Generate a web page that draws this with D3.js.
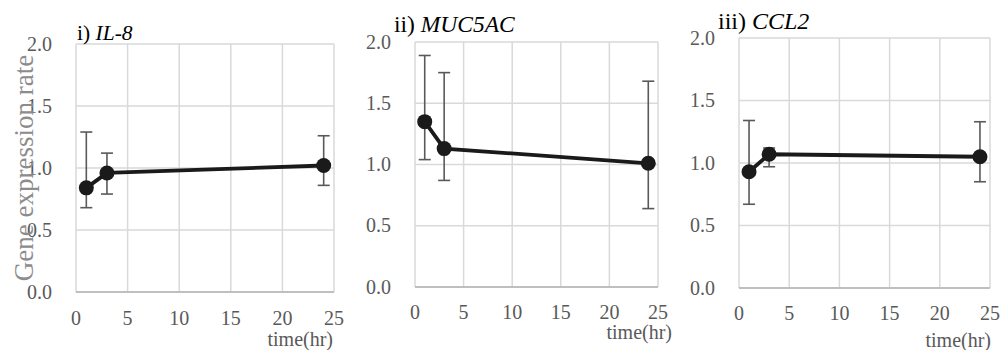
<!DOCTYPE html>
<html><head><meta charset="utf-8">
<script src="https://cdn.jsdelivr.net/npm/d3@7"></script>
<style>
html,body{margin:0;padding:0;background:#fff;}
svg{display:block;}
svg text{font-family:"Liberation Serif","Times New Roman",Times,serif;}
</style></head>
<body><svg id="c" width="1002" height="350"></svg>
<script>
const times = [1, 3, 24];
const xTicks = [0, 5, 10, 15, 20, 25];
const yTicks = [0.0, 0.5, 1.0, 1.5, 2.0];
const panelPrefixes = ["i) ", "ii) ", "iii) "];
const geneNames = ["IL-8", "MUC5AC", "CCL2"];
const il8Mean = [0.84, 0.96, 1.02];
const il8Hi   = [1.29, 1.12, 1.26];
const il8Lo   = [0.68, 0.79, 0.86];
const mucMean = [1.35, 1.13, 1.01];
const mucHi   = [1.89, 1.75, 1.68];
const mucLo   = [1.04, 0.87, 0.64];
const cclMean = [0.93, 1.07, 1.05];
const cclHi   = [1.34, 1.12, 1.33];
const cclLo   = [0.67, 0.97, 0.85];
const yTitle = "Gene expression rate";
const xTitle = "time(hr)";

const series = [
  {mean: il8Mean, hi: il8Hi, lo: il8Lo},
  {mean: mucMean, hi: mucHi, lo: mucLo},
  {mean: cclMean, hi: cclHi, lo: cclLo}
];
const FONT = "Liberation Serif, Times New Roman, serif";
// layout
const panels = [
  {l: 76, r: 334, t: 44, b: 292, titleX: 77, titleY: 40, titleSize: 21.5, xLabY: 325, xTitleX: 333, xTitleY: 346},
  {l: 415, r: 658, t: 42, b: 287, titleX: 394, titleY: 31.5, titleSize: 23.5, xLabY: 319, xTitleX: 672, xTitleY: 339},
  {l: 739, r: 990, t: 38, b: 288, titleX: 718, titleY: 29, titleSize: 24, xLabY: 320, xTitleX: 991, xTitleY: 347}
];
const svg = d3.select("#c");
const gridCol = "#d9d9d9", labCol = "#595959";

panels.forEach((p, i) => {
  const x = d3.scaleLinear().domain([0, 25]).range([p.l, p.r]);
  const y = d3.scaleLinear().domain([0, 2]).range([p.b, p.t]);
  const g = svg.append("g");
  // grid
  g.selectAll(".vg").data(xTicks).join("line")
    .attr("x1", d => x(d)).attr("x2", d => x(d)).attr("y1", y(0)).attr("y2", y(2))
    .attr("stroke", gridCol).attr("stroke-width", 1.5);
  g.selectAll(".hg").data(yTicks).join("line")
    .attr("x1", x(0)).attr("x2", x(25)).attr("y1", d => y(d)).attr("y2", d => y(d))
    .attr("stroke", d => d === 0 ? "#bfbfbf" : gridCol).attr("stroke-width", d => d === 0 ? 2 : 1.5);
  // tick labels
  g.selectAll(".yl").data(yTicks).join("text")
    .attr("x", p.l - 24).attr("y", d => y(d) + 6.5)
    .attr("text-anchor", "end").attr("font-family", FONT).attr("font-size", 20).attr("fill", labCol)
    .text(d => d3.format(".1f")(d));
  g.selectAll(".xl").data(xTicks).join("text")
    .attr("x", d => x(d)).attr("y", p.xLabY)
    .attr("text-anchor", "middle").attr("font-family", FONT).attr("font-size", 20).attr("fill", labCol)
    .text(d => d);
  g.append("text").attr("x", p.xTitleX).attr("y", p.xTitleY)
    .attr("text-anchor", "end").attr("font-family", FONT).attr("font-size", 20).attr("fill", labCol).text(xTitle);
  // title
  const t = g.append("text").attr("x", p.titleX).attr("y", p.titleY)
    .attr("font-family", FONT).attr("font-size", p.titleSize).attr("fill", "#000");
  t.append("tspan").text(panelPrefixes[i]);
  t.append("tspan").attr("font-style", "italic").text(geneNames[i]);
  // data
  const s = series[i];
  const pts = times.map((tm, k) => ({t: tm, m: s.mean[k], hi: s.hi[k], lo: s.lo[k]}));
  const eb = g.selectAll(".eb").data(pts).join("g").attr("stroke", "#595959").attr("stroke-width", 1.6);
  eb.append("line").attr("x1", d => x(d.t)).attr("x2", d => x(d.t)).attr("y1", d => y(d.lo)).attr("y2", d => y(d.hi));
  eb.append("line").attr("x1", d => x(d.t) - 6).attr("x2", d => x(d.t) + 6).attr("y1", d => y(d.lo)).attr("y2", d => y(d.lo));
  eb.append("line").attr("x1", d => x(d.t) - 6).attr("x2", d => x(d.t) + 6).attr("y1", d => y(d.hi)).attr("y2", d => y(d.hi));
  g.append("path").datum(pts)
    .attr("d", d3.line().x(d => x(d.t)).y(d => y(d.m)))
    .attr("fill", "none").attr("stroke", "#1a1a1a").attr("stroke-width", 3.8);
  g.selectAll(".pt").data(pts).join("circle")
    .attr("cx", d => x(d.t)).attr("cy", d => y(d.m)).attr("r", 7.5).attr("fill", "#1a1a1a");
});

// y-axis title
svg.append("text").attr("transform", "translate(33,168) rotate(-90)")
  .attr("text-anchor", "middle").attr("font-family", FONT).attr("font-size", 27).attr("fill", "#8c8c8c").text(yTitle);
</script></body></html>
